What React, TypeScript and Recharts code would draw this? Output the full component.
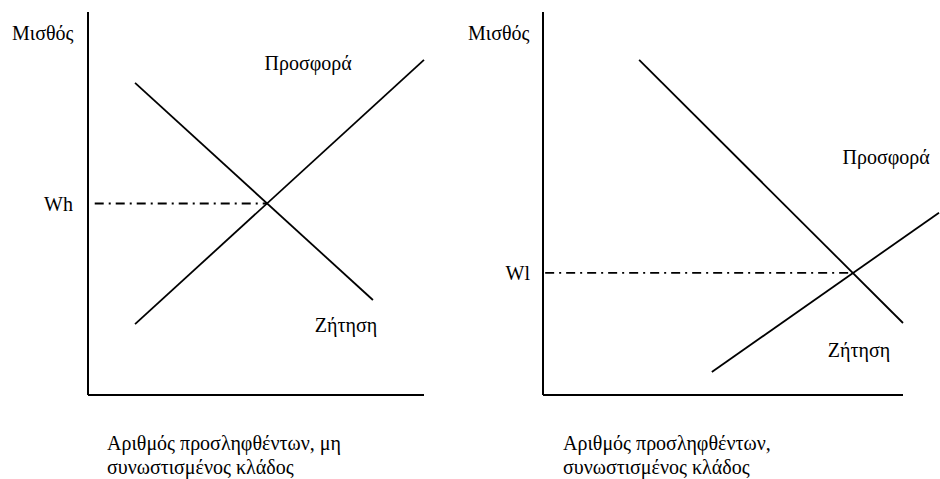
import { LineChart, Line, XAxis, YAxis, ReferenceLine, ReferenceDot } from 'recharts';

// Left panel: non-congested sector (quantity q, wage w in relative units 0..100)
const leftDemand = [
  { q: 14, w: 81.5 },
  { q: 84.8, w: 24.8 },
];
const leftSupply = [
  { q: 14, w: 18.5 },
  { q: 100, w: 87.5 },
];
const leftEquilibrium = { q: 53.3, w: 50 };

// Right panel: congested sector
const rightDemand = [
  { q: 26.7, w: 87.5 },
  { q: 100, w: 18.8 },
];
const rightSupply = [
  { q: 46.9, w: 6 },
  { q: 110, w: 47.6 },
];
const rightEquilibrium = { q: 86.1, w: 31.9 };

const wageLabels = ['Wh', 'Wl'];
const curveLabels = ['Προσφορά', 'Ζήτηση'];
const yTitle = 'Μισθός';
const xTitles = [
  ['Αριθμός προσληφθέντων, μη', 'συνωστισμένος κλάδος'],
  ['Αριθμός προσληφθέντων,', 'συνωστισμένος κλάδος'],
];

const FONT = '"Liberation Serif", "DejaVu Serif", "Times New Roman", serif';
const INK = '#000';
const dashDot = '9 5 2 5';

const textLabel = (value: string) => ({
  value,
  position: 'center' as const,
  fill: INK,
  fontSize: 20,
  fontFamily: FONT,
});

const htmlText: React.CSSProperties = {
  position: 'absolute',
  fontFamily: FONT,
  fontSize: 20,
  lineHeight: '24px',
  color: INK,
  whiteSpace: 'nowrap',
};

export default function App() {
  return (
    <div style={{ position: 'absolute', left: 0, top: 0, width: 940, height: 479, background: '#fff' }}>
      {/* left panel */}
      <div style={{ position: 'absolute', left: 0, top: 0 }}>
        <LineChart width={470} height={479} margin={{ top: 12, right: 46, bottom: 0, left: 0 }}>
          <XAxis
            type="number"
            dataKey="q"
            domain={[0, 100]}
            height={84}
            tick={false}
            tickLine={false}
            axisLine={{ stroke: INK, strokeWidth: 2 }}
          />
          <YAxis
            type="number"
            domain={[0, 100]}
            width={88}
            ticks={[leftEquilibrium.w]}
            tickFormatter={() => wageLabels[0]}
            tickLine={false}
            tickSize={0}
            tickMargin={15}
            tick={{ fill: INK, fontSize: 20, fontFamily: FONT }}
            axisLine={{ stroke: INK, strokeWidth: 2 }}
          />
          <ReferenceLine
            segment={[{ x: 2, y: leftEquilibrium.w }, { x: leftEquilibrium.q, y: leftEquilibrium.w }]}
            stroke={INK}
            strokeWidth={1.8}
            strokeDasharray={dashDot}
          />
          <Line data={leftDemand} dataKey="w" type="linear" stroke={INK} strokeWidth={1.8} dot={false} isAnimationActive={false} />
          <Line data={leftSupply} dataKey="w" type="linear" stroke={INK} strokeWidth={1.8} dot={false} isAnimationActive={false} />
          <ReferenceDot x={65.5} y={86.7} r={0} stroke="none" label={textLabel(curveLabels[0])} />
          <ReferenceDot x={76.8} y={18.3} r={0} stroke="none" label={textLabel(curveLabels[1])} />
        </LineChart>
      </div>

      {/* right panel */}
      <div style={{ position: 'absolute', left: 470, top: 0 }}>
        <LineChart width={470} height={479} margin={{ top: 12, right: 1, bottom: 84, left: 0 }}>
          <XAxis type="number" dataKey="q" domain={[0, 110]} hide />
          <YAxis
            type="number"
            domain={[0, 100]}
            width={73}
            ticks={[rightEquilibrium.w]}
            tickFormatter={() => wageLabels[1]}
            tickLine={false}
            tickSize={0}
            tickMargin={13}
            tick={{ fill: INK, fontSize: 20, fontFamily: FONT }}
            axisLine={{ stroke: INK, strokeWidth: 2 }}
          />
          <ReferenceLine segment={[{ x: 0, y: 0 }, { x: 100, y: 0 }]} stroke={INK} strokeWidth={2} />
          <ReferenceLine
            segment={[{ x: 0.6, y: rightEquilibrium.w }, { x: rightEquilibrium.q, y: rightEquilibrium.w }]}
            stroke={INK}
            strokeWidth={1.8}
            strokeDasharray={dashDot}
          />
          <Line data={rightDemand} dataKey="w" type="linear" stroke={INK} strokeWidth={1.8} dot={false} isAnimationActive={false} />
          <Line data={rightSupply} dataKey="w" type="linear" stroke={INK} strokeWidth={1.8} dot={false} isAnimationActive={false} />
          <ReferenceDot x={95.3} y={62.1} r={0} stroke="none" label={textLabel(curveLabels[0])} />
          <ReferenceDot x={87.8} y={11.7} r={0} stroke="none" label={textLabel(curveLabels[1])} />
        </LineChart>
      </div>

      {/* axis titles */}
      <div style={{ ...htmlText, left: 12, top: 21 }}>{yTitle}</div>
      <div style={{ ...htmlText, left: 468, top: 21 }}>{yTitle}</div>
      <div style={{ ...htmlText, left: 107, top: 431 }}>
        {xTitles[0][0]}
        <br />
        {xTitles[0][1]}
      </div>
      <div style={{ ...htmlText, left: 563, top: 431 }}>
        {xTitles[1][0]}
        <br />
        {xTitles[1][1]}
      </div>
    </div>
  );
}
